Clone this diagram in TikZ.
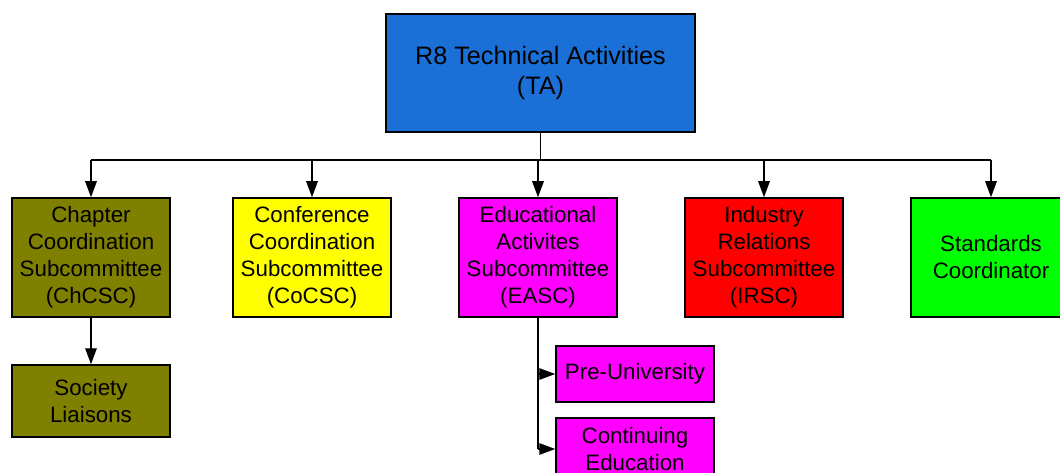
\documentclass[tikz,border=0pt]{standalone}
\usepackage{fontspec}
\setmainfont{Liberation Sans}
\usetikzlibrary{arrows.meta}
\definecolor{tablue}{RGB}{26,112,214}
\definecolor{olivebox}{RGB}{128,128,0}
\definecolor{yellowbox}{RGB}{255,255,0}
\definecolor{magbox}{RGB}{255,0,255}
\definecolor{redbox}{RGB}{255,0,0}
\definecolor{greenbox}{RGB}{0,255,0}
\tikzset{
  box/.style={draw=black, line width=1.5pt, align=center, inner sep=0pt,
    font=\fontsize{22.3}{27}\selectfont, text=black},
  sub/.style={box, minimum width=158pt, minimum height=119pt},
  conn/.style={draw=black, line width=1.4pt},
  arr/.style={conn, -{Triangle[length=16pt,width=11.5pt]}},
}
\begin{document}
\begin{tikzpicture}[x=1pt,y=-1pt]
\useasboundingbox (0,0) rectangle (1060,473);
\node[box, fill=tablue, minimum width=309pt, minimum height=118pt, font=\fontsize{25.2}{30}\selectfont] (ta) at (540.5,73) {R8 Technical Activities\\(TA)};
\node[sub, fill=olivebox] (ch) at (91,257.5) {Chapter\\Coordination\\Subcommittee\\(ChCSC)};
\node[sub, fill=yellowbox] (co) at (312,257.5) {Conference\\Coordination\\Subcommittee\\(CoCSC)};
\node[sub, fill=magbox] (ea) at (538,257.5) {Educational\\Activites\\Subcommittee\\(EASC)};
\node[sub, fill=redbox, text=black] (ir) at (764,257.5) {Industry\\Relations\\Subcommittee\\(IRSC)};
\node[sub, fill=greenbox, minimum width=160pt] (st) at (991,257.5) {Standards\\Coordinator};
\node[box, fill=olivebox, minimum width=158pt, minimum height=72pt] (sl) at (91,401) {Society\\Liaisons};
\node[box, fill=magbox, minimum width=158pt, minimum height=56pt] (pu) at (635,374) {Pre-University};
\node[box, fill=magbox, minimum width=158pt, minimum height=62pt] (ce) at (635,449) {Continuing\\Education};
\coordinate (bus) at (540.5,160);
\draw[conn] (ta.south) -- (bus);
\draw[conn] (ch.north |- bus) -- (st.north |- bus);
\foreach \n in {ch,co,ea,ir,st} {
  \draw[arr] (\n.north |- bus) -- (\n.north);
}
\draw[arr] (ch.south) -- (sl.north);
\draw[conn] (ea.south) -- (ea.south |- ce.west);
\draw[arr] (ea.south |- pu.west) -- (pu.west);
\draw[arr] (ea.south |- ce.west) -- (ce.west);
\end{tikzpicture}
\end{document}
